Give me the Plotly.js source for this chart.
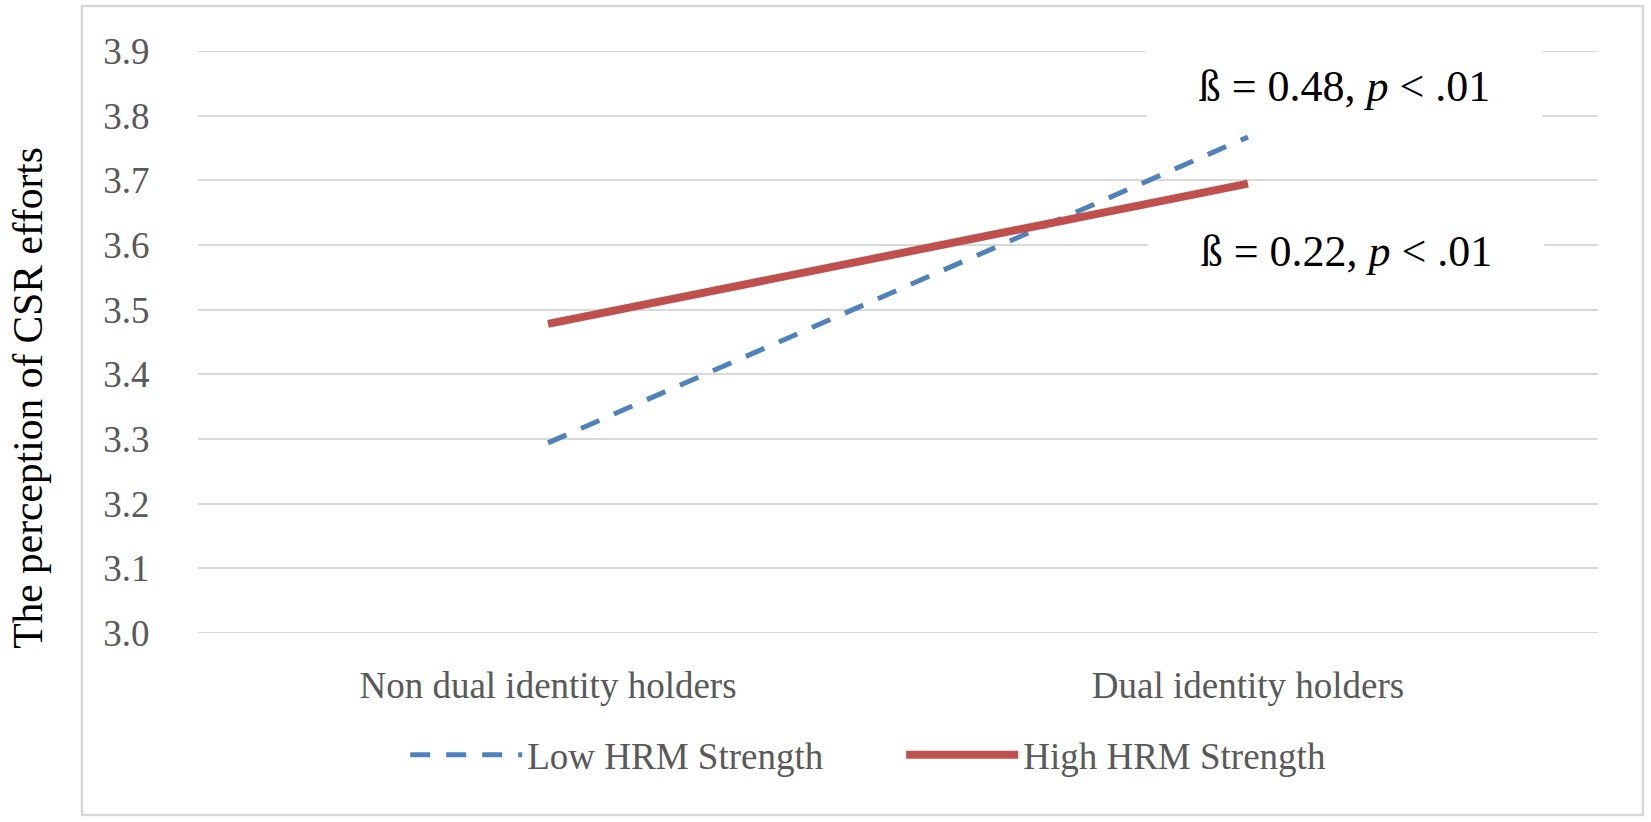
<!DOCTYPE html>
<html>
<head>
<meta charset="utf-8">
<script src="https://cdn.plot.ly/plotly-3.0.1.min.js"></script>
<style>
  html, body { margin: 0; padding: 0; background: #fff; }
  #chart { width: 1651px; height: 822px; }
</style>
</head>
<body>
<div id="chart"></div>
<script>
const categories = ['Non dual identity holders', 'Dual identity holders'];
const lowHRM = [3.294, 3.767];
const highHRM = [3.478, 3.695];
const yTickVals = [3.0, 3.1, 3.2, 3.3, 3.4, 3.5, 3.6, 3.7, 3.8, 3.9];
const yTickText = ['3.0', '3.1', '3.2', '3.3', '3.4', '3.5', '3.6', '3.7', '3.8', '3.9'];
const seriesNames = ['Low HRM Strength', 'High HRM Strength'];
const betaLabels = ['ß = 0.48, <i>p</i> &lt; .01', 'ß = 0.22, <i>p</i> &lt; .01'];
const yTitle = 'The perception of CSR efforts';

const serif = '"Liberation Serif", "Times New Roman", serif';
const grey = '#595959';
const gridGrey = '#d9d9d9';

const traces = [
    {
        x: categories,
        y: lowHRM,
        name: seriesNames[0],
        mode: 'lines',
        type: 'scatter',
        line: { color: '#4f81bd', width: 5, dash: '20px,16px' },
    },
    {
        x: categories,
        y: highHRM,
        name: seriesNames[1],
        mode: 'lines',
        type: 'scatter',
        line: { color: '#c0504d', width: 8 },
    },
];

// edge gridlines (plotly skips grid at the ends of the range)
const edgeLines = [yTickVals[0], yTickVals[yTickVals.length - 1]].map(v => ({
    type: 'line',
    xref: 'paper', yref: 'y',
    x0: 0, x1: 1, y0: v, y1: v,
    line: { color: gridGrey, width: 2 },
    layer: 'below',
}));

const layout = {
    width: 1651,
    height: 822,
    margin: { l: 198, r: 53, t: 51, b: 189 },
    paper_bgcolor: '#ffffff',
    plot_bgcolor: '#ffffff',
    font: { family: serif, size: 37, color: grey },
    showlegend: true,
    legend: {
        orientation: 'h',
        x: 0.148,
        xanchor: 'left',
        y: -0.21,
        yanchor: 'middle',
        itemwidth: 112,
        entrywidth: 369,
        entrywidthmode: 'pixels',
        font: { family: serif, size: 37, color: grey },
    },
    xaxis: {
        type: 'category',
        range: [-0.5, 1.5],
        showgrid: false,
        zeroline: false,
        showline: false,
        ticks: 'outside',
        ticklen: 20,
        tickcolor: 'rgba(0,0,0,0)',
        tickfont: { family: serif, size: 37, color: grey },
    },
    yaxis: {
        range: [3.0, 3.9],
        tickvals: yTickVals,
        ticktext: yTickText,
        showgrid: true,
        gridcolor: gridGrey,
        gridwidth: 2,
        zeroline: false,
        showline: false,
        ticks: 'outside',
        ticklen: 40,
        tickcolor: 'rgba(0,0,0,0)',
        tickfont: { family: serif, size: 37, color: grey },
    },
    shapes: [
        {
            type: 'rect',
            xref: 'paper', yref: 'paper',
            x0: -0.0829, x1: 1.0321,
            y0: -0.3127, y1: 1.0773,
            line: { color: gridGrey, width: 2.5 },
            fillcolor: 'rgba(0,0,0,0)',
            layer: 'below',
        },
        ...edgeLines,
    ],
    annotations: [
        {
            text: betaLabels[0],
            xref: 'paper', yref: 'paper',
            x: 0.819, y: 0.94,
            xanchor: 'center', yanchor: 'middle',
            showarrow: false,
            width: 393, height: 80,
            bgcolor: '#ffffff',
            font: { family: serif, size: 44, color: '#000000' },
        },
        {
            text: betaLabels[1],
            xref: 'paper', yref: 'paper',
            x: 0.82, y: 0.656,
            xanchor: 'center', yanchor: 'middle',
            showarrow: false,
            width: 393, height: 70,
            bgcolor: '#ffffff',
            font: { family: serif, size: 44, color: '#000000' },
        },
        {
            text: yTitle,
            xref: 'paper', yref: 'paper',
            x: -0.1215, y: 0.404,
            xanchor: 'center', yanchor: 'middle',
            showarrow: false,
            textangle: -90,
            borderpad: 0,
            font: { family: serif, size: 41.5, color: '#000000' },
        },
    ],
};

Plotly.newPlot('chart', traces, layout, { displayModeBar: false, staticPlot: true });
</script>
</body>
</html>
